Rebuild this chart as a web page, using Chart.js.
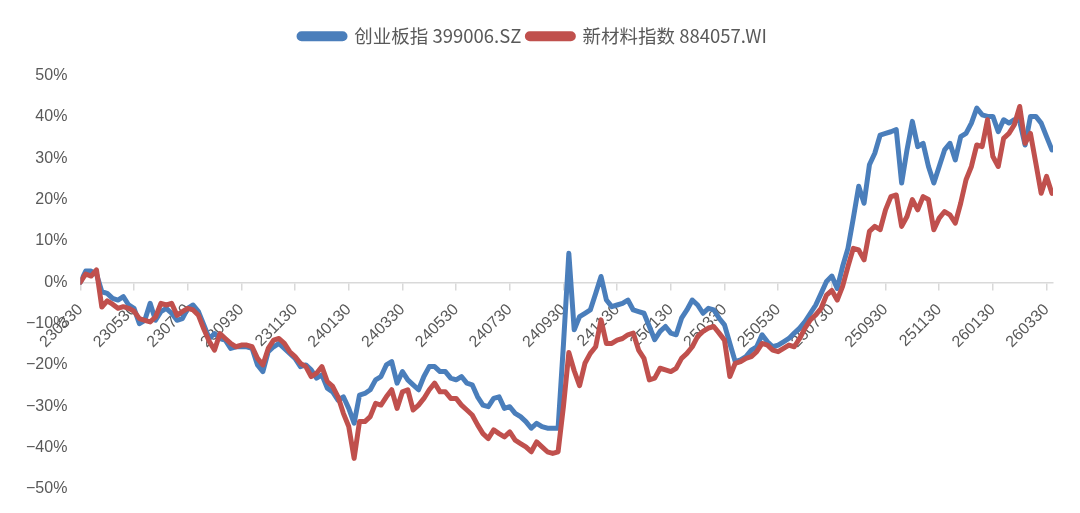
<!DOCTYPE html>
<html>
<head>
<meta charset="utf-8">
<script src="https://cdn.jsdelivr.net/npm/chart.js@4.4.1/dist/chart.umd.min.js"></script>
<style>
  html, body { margin: 0; padding: 0; background: #fff; }
  #wrap { width: 1080px; height: 513px; }
</style>
</head>
<body>
<div id="wrap"><canvas id="perfChart" width="1080" height="513"></canvas></div>
<script>
// tick labels, one every 10 points
const tickLabels = ['230330', '230530', '230730', '230930', '231130', '240130', '240330', '240530', '240730', '240930',
  '241130', '250130', '250330', '250530', '250730', '250930', '251130', '260130', '260330'];

const seriesNames = ['创业板指 399006.SZ', '新材料指数 884057.WI'];

// 创业板指, cumulative return (%)
const chinextValues = [
  0, 2.7, 2.7, 2.0, -2.3, -2.7, -3.9, -4.3, -3.5, -5.5,
  -6.3, -10, -9.2, -5.1, -9.2, -7.1, -6.3, -7.5, -9.2, -8.8,
  -6.3, -5.5, -7.1, -10.3, -13.6, -12.4, -13.6, -14, -16, -15.6,
  -15.6, -15.6, -16, -20, -21.6, -16.8, -15.6, -14.8, -16, -17.2,
  -18.4, -20.4, -20, -21.2, -23.2, -22.4, -25.6, -26.5, -28.5, -27.7,
  -30.5, -34.1, -27.3, -26.9, -26, -23.6, -22.8, -20, -19.2, -24.4,
  -21.6, -23.6, -24.8, -26, -22.8, -20.4, -20.4, -21.6, -21.6, -23.2,
  -23.6, -22.8, -24.4, -24.8, -27.7, -29.7, -30.1, -28.1, -27.7, -30.5,
  -30.1, -31.7, -32.5, -33.7, -35.3, -34.1, -34.9, -35.3, -35.3, -35.3,
  -15, 7, -11.5, -8.3, -7.5, -6.7, -2.7, 1.4, -4.3, -5.9,
  -5.5, -5.1, -4.3, -6.7, -7.1, -7.5, -10.7, -13.9, -11.9, -10.7,
  -12.3, -12.7, -8.7, -6.7, -4.3, -5.5, -7.5, -6.3, -6.7, -8.7,
  -10.3, -14.8, -19.2, -18.8, -18, -16.4, -15.6, -12.7, -14.4, -15.6,
  -15.2, -14.4, -13.6, -12.3, -11.1, -9.5, -7.5, -5.5, -2.7, 0.2,
  1.5, -1.5, 3.8, 8.2, 15.5, 23.2, 19.1, 28.4, 31.2, 35.6,
  36, 36.4, 36.9, 24, 32, 38.9, 32.8, 33.6, 28, 24,
  28, 32, 33.6, 29.6, 35.2, 36, 38.5, 42.1, 40.5, 40.1,
  40.1, 36.4, 39.3, 38.5, 39.3, 38.9, 33.2, 40.1, 40.1, 38.5,
  35.2, 32
];

// 新材料指数, cumulative return (%)
const materialsValues = [
  0, 2, 1.5, 3, -6, -4.5, -5.3, -6.3, -5.9, -6.3,
  -7, -8.8, -9.2, -9.6, -8.4, -5.1, -5.5, -5.1, -8, -7.1,
  -6.3, -6.7, -8, -11.3, -14.3, -16.4, -12.4, -13.6, -14.8, -15.6,
  -15.2, -15.2, -15.6, -18.4, -20, -16, -14, -13.6, -14.8, -16.8,
  -18, -19.6, -20.4, -22.8, -22, -20.4, -24, -25.2, -27.7, -31.7,
  -34.9, -42.6, -33.7, -33.7, -32.5, -29.3, -29.7, -27.7, -26, -30.5,
  -26.5, -26, -30.9, -29.7, -28.1, -26, -24.4, -26.5, -26.5, -28.1,
  -28.1, -29.7, -30.9, -32.1, -34.5, -36.6, -37.8, -35.7, -36.6, -37.4,
  -36.2, -38.2, -39, -39.8, -41, -38.6, -39.8, -41, -41.4, -41,
  -30, -17, -21.4, -25, -19.6, -17.2, -15.6, -9.1, -14.8, -14.8,
  -14, -13.6, -12.7, -12.3, -16.4, -18.4, -23.6, -23.2, -20.8, -21.2,
  -21.6, -20.8, -18.4, -17.2, -15.6, -13.1, -11.9, -11.1, -10.7, -12.3,
  -14, -22.8, -19.6, -19.2, -18.4, -18, -16.8, -14.8, -15.2, -16.4,
  -16.8, -16, -15.2, -15.6, -13.6, -11.1, -9.1, -7.9, -6.3, -3.1,
  -2, -4.3, -1, 3.8, 8.2, 7.8, 5.4, 12.3, 13.5, 12.7,
  17.5, 20.7, 21.1, 13.5, 15.9, 20, 17.5, 20.7, 20, 12.7,
  15.5, 17.1, 16.3, 14.3, 19.1, 24.8, 28, 33.2, 32.8, 39.3,
  30.4, 28, 34.8, 36, 38.1, 42.5, 33.6, 36, 28.8, 21.5,
  25.6, 21.5
];

const BLUE = '#4a7ebb';
const RED = '#c0504d';
const TEXT = '#595959';

function toPoints(values) {
  return values.map((v, i) => ({ x: i, y: v }));
}

// leave a gap under the legend, like the original
const legendGap = {
  id: 'legendGap',
  beforeInit(chart) {
    const fit = chart.legend.fit;
    chart.legend.fit = function () {
      fit.call(this);
      this.height += 20;
    };
  }
};

// the first rotated x label is allowed to hang past the plot edge
const noEdgePadding = {
  id: 'noEdgePadding',
  beforeLayout(chart) {
    const x = chart.scales.x;
    if (x) {
      x.getPadding = () => ({ left: 0, top: 0, right: 0, bottom: 0 });
    }
  }
};

const ctx = document.getElementById('perfChart').getContext('2d');

new Chart(ctx, {
  type: 'line',
  data: {
    datasets: [
      {
        label: seriesNames[0],
        data: toPoints(chinextValues),
        borderColor: BLUE,
        backgroundColor: BLUE,
        borderWidth: 5,
        pointRadius: 0,
        tension: 0,
        borderJoinStyle: 'round',
        borderCapStyle: 'round',
        order: 2
      },
      {
        label: seriesNames[1],
        data: toPoints(materialsValues),
        borderColor: RED,
        backgroundColor: RED,
        borderWidth: 5,
        pointRadius: 0,
        tension: 0,
        borderJoinStyle: 'round',
        borderCapStyle: 'round',
        order: 1
      }
    ]
  },
  plugins: [legendGap, noEdgePadding],
  options: {
    responsive: false,
    animation: false,
    devicePixelRatio: 1,
    layout: {
      padding: { top: 21, left: 13, right: 27, bottom: 24 }
    },
    plugins: {
      legend: {
        position: 'top',
        labels: {
          boxWidth: 46,
          boxHeight: 5,
          padding: 6,
          color: TEXT,
          font: { family: '"Noto Sans CJK SC", "Noto Sans", sans-serif', size: 18.5 },
          useBorderRadius: true,
          borderRadius: 2.5,
          sort: (a, b) => a.datasetIndex - b.datasetIndex
        }
      },
      tooltip: { enabled: false }
    },
    scales: {
      x: {
        type: 'linear',
        position: { y: 0 },
        min: 0,
        max: 181.2,
        afterFit: (scale) => {
          scale.paddingLeft = 0;
          scale.paddingRight = 0;
        },
        grid: {
          display: true,
          drawOnChartArea: false,
          drawTicks: true,
          tickLength: 7,
          color: '#d9d9d9',
          lineWidth: 1.5
        },
        border: { display: true, color: '#d9d9d9', width: 1.5 },
        ticks: {
          stepSize: 10,
          includeBounds: false,
          autoSkip: false,
          minRotation: 45,
          maxRotation: 45,
          padding: 11,
          color: TEXT,
          font: { family: '"Liberation Sans", Arial, sans-serif', size: 16 },
          callback: (v) => tickLabels[Math.round(v / 10)] || ''
        }
      },
      y: {
        min: -50,
        max: 50,
        grid: { display: false, drawTicks: false },
        border: { display: false },
        ticks: {
          stepSize: 10,
          padding: 13,
          color: TEXT,
          font: { family: '"Liberation Sans", Arial, sans-serif', size: 16 },
          callback: (v) => (v < 0 ? '\u2212' : '') + Math.abs(v) + '%'
        }
      }
    }
  }
});
</script>
</body>
</html>
